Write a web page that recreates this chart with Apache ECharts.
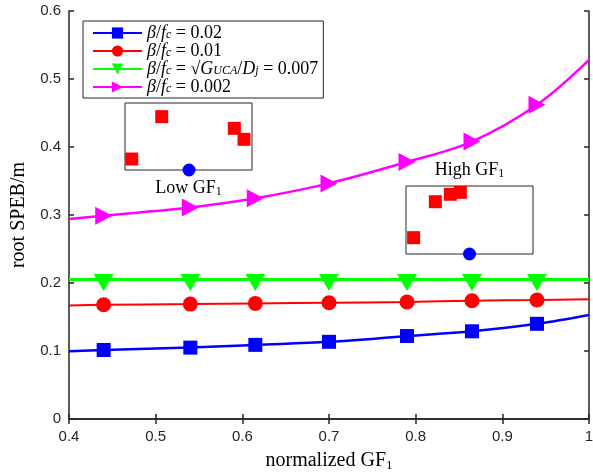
<!DOCTYPE html>
<html><head><meta charset="utf-8">
<script src="https://cdn.jsdelivr.net/npm/echarts/dist/echarts.min.js"></script>
<style>html,body{margin:0;padding:0;background:#fff}#c{width:593px;height:472px}</style>
</head><body><div id="c"></div>
<script>
// x positions of the curve samples (ends + marker positions)
const xLine = [0.4, 0.44, 0.54, 0.615, 0.70, 0.79, 0.865, 0.94, 1.0];
const blueVals = [0.0995, 0.1015, 0.105, 0.109, 0.1135, 0.122, 0.129, 0.140, 0.153];
const redVals = [0.167, 0.168, 0.169, 0.170, 0.171, 0.172, 0.174, 0.175, 0.176];
const greenVals = [0.205, 0.205, 0.205, 0.205, 0.205, 0.205, 0.205, 0.205, 0.205];
const magentaVals = [0.294, 0.299, 0.311, 0.3245, 0.3465, 0.378, 0.408, 0.462, 0.528];
const seriesNames = ['s002', 's001', 's0007', 's0002'];
const legendTexts = {
  s002: '{i|β}/{i|f}{s|c} = 0.02',
  s001: '{i|β}/{i|f}{s|c} = 0.01',
  s0007: '{i|β}/{i|f}{s|c} = √{i|G}{s|UCA}/{i|D}{s|j} = 0.007',
  s0002: '{i|β}/{i|f}{s|c} = 0.002'
};
const xTicks = [0.4, 0.5, 0.6, 0.7, 0.8, 0.9, 1.0];
const yTicks = [0, 0.1, 0.2, 0.3, 0.4, 0.5, 0.6];
// inset schematic points (normalized inset coordinates)
const lowRedX = [0.053, 0.289, 0.861, 0.937];
const lowRedY = [0.164, 0.796, 0.622, 0.458];
const lowBlue = [0.504, 0];
const highRedX = [0.06, 0.231, 0.349, 0.428];
const highRedY = [0.24, 0.769, 0.878, 0.907];
const highBlue = [0.5, 0];

const axisColor = '#262626';
const serif = 'Liberation Serif';
const sans = 'Liberation Sans';

function lineSeries(name, vals, color, symbol, size, rotate, width, offset) {
  return {
    name: name, type: 'line', xAxisIndex: 0, yAxisIndex: 0,
    smooth: 0.35, showAllSymbol: true,
    symbol: symbol, symbolSize: size, symbolRotate: rotate, symbolOffset: offset || [0, 0],
    lineStyle: {color: color, width: width},
    itemStyle: {color: color},
    data: xLine.map((x, i) => {
      const it = {value: [x, vals[i]]};
      if (i === 0 || i === xLine.length - 1) it.symbol = 'none';
      return it;
    })
  };
}

const chart = echarts.init(document.getElementById('c'));
const subRich = {
  a: {fontFamily: serif, fontSize: 20, color: '#000', lineHeight: 22},
  s: {fontFamily: serif, fontSize: 13, color: '#000', lineHeight: 10, verticalAlign: 'bottom'}
};
const insetRich = {
  a: {fontFamily: serif, fontSize: 18, color: '#000', lineHeight: 20},
  s: {fontFamily: serif, fontSize: 12, color: '#000', lineHeight: 6, verticalAlign: 'bottom'}
};
chart.setOption({
  animation: false,
  backgroundColor: '#fff',
  grid: [
    {left: 69, right: 4, top: 11, bottom: 53, outerBoundsMode: 'none', containLabel: false},
    {left: 125, top: 103, width: 127, height: 67, show: true, borderColor: axisColor, borderWidth: 1, backgroundColor: '#fff', outerBoundsMode: 'none'},
    {left: 406, top: 186, width: 127, height: 68, show: true, borderColor: axisColor, borderWidth: 1, backgroundColor: '#fff', outerBoundsMode: 'none'}
  ],
  legend: {
    data: seriesNames,
    orient: 'vertical', left: 83, top: 21,
    itemWidth: 49, itemHeight: 14, itemGap: 0,
    padding: [3, 5, 2, 9],
    borderColor: axisColor, borderWidth: 1, backgroundColor: '#fff',
    formatter: n => legendTexts[n],
    textStyle: {
      fontFamily: serif, fontSize: 18, color: '#000', lineHeight: 16,
      rich: {
        i: {fontFamily: serif, fontStyle: 'italic', fontSize: 18, color: '#000', lineHeight: 16},
        s: {fontFamily: serif, fontStyle: 'italic', fontSize: 12, color: '#000', lineHeight: 8, verticalAlign: 'bottom'}
      }
    }
  },
  xAxis: [
    {gridIndex: 0, type: 'value', min: 0.4, max: 1.0, interval: 0.1, position: 'bottom',
     name: '{a|normalized GF}{s|1}', nameLocation: 'middle', nameGap: 31,
     nameTextStyle: {rich: subRich},
     axisLine: {show: true, lineStyle: {color: axisColor, width: 1.5}},
     axisTick: {show: true, inside: true, length: 5, lineStyle: {color: axisColor, width: 1.5}},
     axisLabel: {fontFamily: sans, fontSize: 15, color: axisColor, margin: 10,
       formatter: v => { const t = xTicks.find(k => Math.abs(k - v) < 1e-9); return t === undefined ? '' : String(+t.toFixed(1)); }},
     splitLine: {show: false}},
    {gridIndex: 0, type: 'value', min: 0.4, max: 1.0, interval: 0.1, position: 'top',
     axisLine: {show: true, lineStyle: {color: axisColor, width: 1.5}},
     axisTick: {show: true, inside: true, length: 5, lineStyle: {color: axisColor, width: 1.5}},
     axisLabel: {show: false}, splitLine: {show: false}},
    {gridIndex: 1, type: 'value', min: 0, max: 1, position: 'bottom',
     name: '{a|Low GF}{s|1}', nameLocation: 'middle', nameGap: 8,
     nameTextStyle: {rich: insetRich},
     axisLine: {show: false}, axisTick: {show: false}, axisLabel: {show: false}, splitLine: {show: false}},
    {gridIndex: 2, type: 'value', min: 0, max: 1, position: 'top',
     name: '{a|High GF}{s|1}', nameLocation: 'middle', nameGap: 6,
     nameTextStyle: {rich: insetRich},
     axisLine: {show: false}, axisTick: {show: false}, axisLabel: {show: false}, splitLine: {show: false}}
  ],
  yAxis: [
    {gridIndex: 0, type: 'value', min: 0, max: 0.6, interval: 0.1, position: 'left',
     name: 'root SPEB/m', nameLocation: 'middle', nameGap: 29,
     nameTextStyle: {fontFamily: serif, fontSize: 20, color: '#000'},
     axisLine: {show: true, lineStyle: {color: axisColor, width: 1.5}},
     axisTick: {show: true, inside: true, length: 5, lineStyle: {color: axisColor, width: 1.5}},
     axisLabel: {fontFamily: sans, fontSize: 15, color: axisColor, margin: 8,
       formatter: v => { const t = yTicks.find(k => Math.abs(k - v) < 1e-9); return t === undefined ? '' : String(+t.toFixed(1)); }},
     splitLine: {show: false}},
    {gridIndex: 0, type: 'value', min: 0, max: 0.6, interval: 0.1, position: 'right',
     axisLine: {show: true, lineStyle: {color: axisColor, width: 1.5}},
     axisTick: {show: true, inside: true, length: 5, lineStyle: {color: axisColor, width: 1.5}},
     axisLabel: {show: false}, splitLine: {show: false}},
    {gridIndex: 1, type: 'value', min: 0, max: 1, show: false},
    {gridIndex: 2, type: 'value', min: 0, max: 1, show: false}
  ],
  series: [
    lineSeries('s002', blueVals, '#0000ff', 'rect', 14, 0, 2.5),
    lineSeries('s001', redVals, '#ff0000', 'circle', 15, 0, 2),
    lineSeries('s0007', greenVals, '#00ff00', 'triangle', [20, 17], 180, 3, [0, 3]),
    lineSeries('s0002', magentaVals, '#ff00ff', 'triangle', [18, 17], -90, 2.5),
    {type: 'scatter', xAxisIndex: 2, yAxisIndex: 2, symbol: 'rect', symbolSize: 13, clip: false,
     itemStyle: {color: '#ff0000', opacity: 1}, data: lowRedX.map((x, i) => [x, lowRedY[i]])},
    {type: 'scatter', xAxisIndex: 2, yAxisIndex: 2, symbol: 'circle', symbolSize: 13, clip: false,
     itemStyle: {color: '#0000ff', opacity: 1}, data: [lowBlue]},
    {type: 'scatter', xAxisIndex: 3, yAxisIndex: 3, symbol: 'rect', symbolSize: 13, clip: false,
     itemStyle: {color: '#ff0000', opacity: 1}, data: highRedX.map((x, i) => [x, highRedY[i]])},
    {type: 'scatter', xAxisIndex: 3, yAxisIndex: 3, symbol: 'circle', symbolSize: 13, clip: false,
     itemStyle: {color: '#0000ff', opacity: 1}, data: [highBlue]}
  ]
});
</script>
</body></html>
